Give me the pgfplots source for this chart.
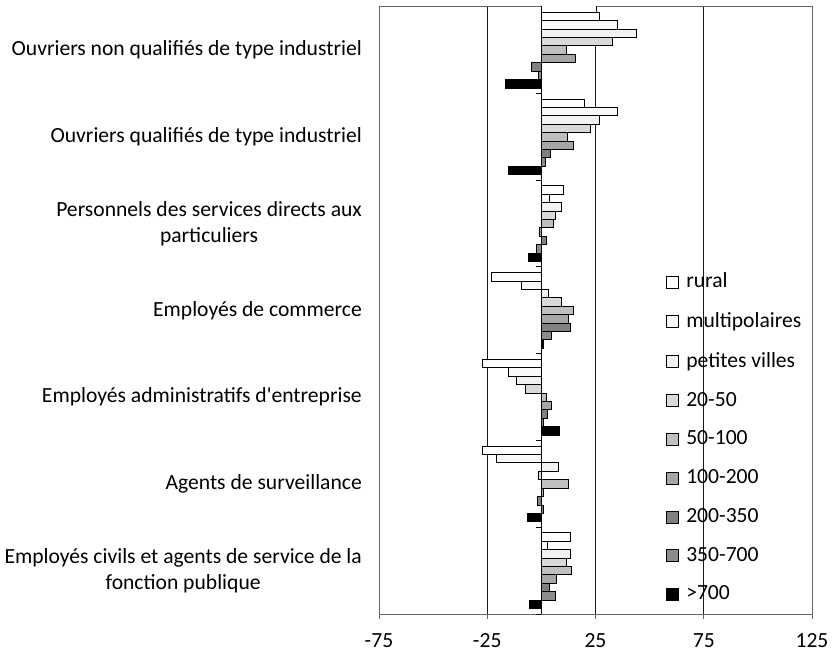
\documentclass[border=0pt]{standalone}
\usepackage{fontspec}
\setmainfont{Carlito}
\usepackage{pgfplots}
\usepackage{pgfplotstable}
\pgfplotsset{compat=1.18}
\definecolor{s1}{HTML}{FFFFFF}
\definecolor{s2}{HTML}{F9F9F9}
\definecolor{s3}{HTML}{F2F2F2}
\definecolor{s4}{HTML}{D9D9D9}
\definecolor{s5}{HTML}{BFBFBF}
\definecolor{s6}{HTML}{A6A6A6}
\definecolor{s7}{HTML}{808080}
\definecolor{s8}{HTML}{8C8C8C}
\definecolor{s9}{HTML}{000000}
\pgfplotstableread{
cat rural multi petites a b c d e f
0 26.9 35.3 44.1 32.6 11.5 15.8 -4.6 -1.5 -16.4
1 20.0 35.3 26.9 22.7 12.0 14.6 4.3 1.7 -15.1
2 10.4 3.8 9.2 6.3 5.7 -1.1 2.2 -2.2 -5.8
3 -23.0 -9.2 3.3 9.2 14.6 12.7 13.5 4.5 1.0
4 -27.1 -15.1 -11.5 -7.4 2.1 4.6 2.8 1.0 8.1
5 -27.2 -21.0 8.0 -1.5 12.7 0.9 -2.0 0.9 -6.3
6 13.4 2.8 13.4 11.5 14.1 6.9 3.8 6.3 -5.7
}\data
\newcommand{\ff}{\fontsize{21.6}{25.5}\selectfont}
\begin{document}
\ff
\begin{tikzpicture}
\begin{axis}[
  scale only axis, width=433pt, height=607.3pt,
  xmin=-75, xmax=125, ymin=-0.5, ymax=6.5, y dir=reverse,
  xtick={-75,-25,25,75,125}, xticklabels={-75,-25,25,75,125},
  ytick={0,1,2,3,4,5,6},
  yticklabels={{Ouvriers non qualifiés de type industriel},
    {Ouvriers qualifiés de type industriel},
    {Personnels des services directs aux\\particuliers},
    {Employés de commerce},
    {Employés administratifs d\textquotesingle entreprise},
    {Agents de surveillance},
    {Employés civils et agents de service de la\\fonction publique}},
  xmajorgrids, grid style={black!90, line width=0.8pt},
  axis line style={black!60, line width=0.8pt},
  xtick pos=bottom, ytick pos=left, tick align=outside,
  major tick length=5pt,
  x tick style={black!60, line width=0.8pt},
  y tick style={draw=none},
  yticklabel style={align=center, anchor=east, inner sep=0pt, xshift=-12pt, font=\ff},
  xticklabel style={anchor=base, inner sep=0pt, yshift=-28pt, font=\ff},
  xbar, bar width=0.097,
  every axis plot/.append style={draw=black, line width=0.8pt},
  legend style={draw=none, fill=none, inner sep=0pt, at={(axis cs:57.7,2.565)}, anchor=north west,
    row sep=21.5pt, column sep=7pt, font=\ff, nodes={inner xsep=0pt, inner ysep=0pt}},
  legend cell align=left,
  legend image code/.code={\draw[#1, draw=black, line width=0.8pt] (0pt,-6pt) rectangle (12pt,6pt);},
]
\addplot[fill=s1, bar shift=-0.388] table[x=rural, y=cat] {\data};
\addplot[fill=s2, bar shift=-0.291] table[x=multi, y=cat] {\data};
\addplot[fill=s3, bar shift=-0.194] table[x=petites, y=cat] {\data};
\addplot[fill=s4, bar shift=-0.097] table[x=a, y=cat] {\data};
\addplot[fill=s5, bar shift=0] table[x=b, y=cat] {\data};
\addplot[fill=s6, bar shift=0.097] table[x=c, y=cat] {\data};
\addplot[fill=s7, bar shift=0.194] table[x=d, y=cat] {\data};
\addplot[fill=s8, bar shift=0.291] table[x=e, y=cat] {\data};
\addplot[fill=s9, bar shift=0.388] table[x=f, y=cat] {\data};
\addplot[fill=white, bar shift=-0.485, forget plot] coordinates {(25.3,0)};
\legend{rural,multipolaires,petites villes,20-50,50-100,100-200,200-350,350-700,>700}
\draw[black, line width=1.6pt] (axis cs:0,-0.5) -- (axis cs:0,6.5);
\pgfplotsinvokeforeach{0.5,1.5,2.5,3.5,4.5,5.5,6.5}{\draw[black, line width=1pt] (axis cs:-2.6,#1) -- (axis cs:0,#1);}
\end{axis}
\pgfresetboundingbox
\path[use as bounding box] ([shift={(-379pt,-37pt)}]current axis.south west) rectangle ++(833pt,651pt);
\end{tikzpicture}
\end{document}
